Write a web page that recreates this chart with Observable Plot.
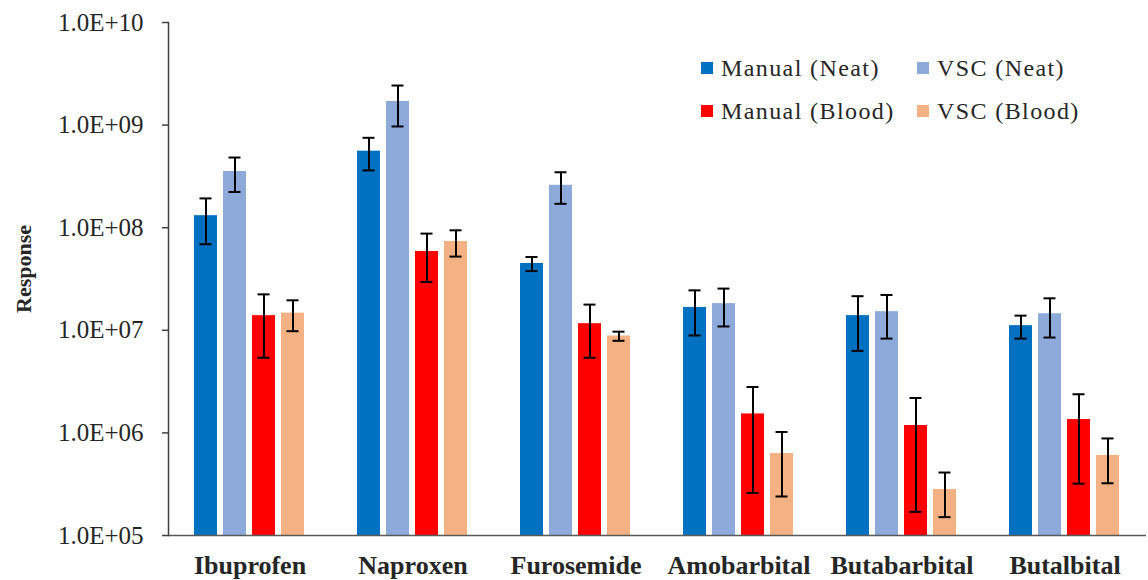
<!DOCTYPE html>
<html>
<head>
<meta charset="utf-8">
<script src="https://cdn.jsdelivr.net/npm/d3@7"></script>
<script src="https://cdn.jsdelivr.net/npm/@observablehq/plot@0.6"></script>
<style>
  body { margin: 0; background: #fff; }
  #chart { position: relative; width: 1148px; height: 580px; }
  .legend-item { position: absolute; display: flex; align-items: center; height: 24px; line-height: 24px;
    font-family: "Liberation Serif", "Times New Roman", serif; font-size: 24px; letter-spacing: 1.4px; color: #262626; white-space: nowrap; }
  .legend-item .sw { width: 12px; height: 12px; margin-right: 8px; flex: none; }
</style>
</head>
<body>
<div id="chart"></div>
<script>
// Compounds on the x axis and the four extraction / matrix series
const compounds = ["Ibuprofen", "Naproxen", "Furosemide", "Amobarbital", "Butabarbital", "Butalbital"];
const series = ["Manual (Neat)", "VSC (Neat)", "Manual (Blood)", "VSC (Blood)"];
const seriesColors = ["#0070C0", "#8EAADB", "#FF0000", "#F4B183"];

// Mean response and standard deviation per compound
const manualNeat     = [1.31e8, 5.57e8, 4.48e7, 1.67e7, 1.39e7, 1.11e7];
const manualNeatSd   = [6.2e7, 1.95e8, 7.0e6, 7.8e6, 7.6e6, 2.8e6];
const vscNeat        = [3.53e8, 1.70e9, 2.59e8, 1.82e7, 1.52e7, 1.45e7];
const vscNeatSd      = [1.3e8, 7.3e8, 8.8e7, 7.3e6, 6.9e6, 6.0e6];
const manualBlood    = [1.39e7, 5.86e7, 1.16e7, 1.53e6, 1.18e6, 1.35e6];
const manualBloodSd  = [8.5e6, 2.9e7, 6.2e6, 1.27e6, 1.01e6, 1.03e6];
const vscBlood       = [1.47e7, 7.33e7, 8.8e6, 6.3e5, 2.81e5, 6.03e5];
const vscBloodSd     = [4.9e6, 2.1e7, 9.0e5, 3.9e5, 1.3e5, 2.8e5];

// Log axis ticks and their labels
const yTicks = [1e5, 1e6, 1e7, 1e8, 1e9, 1e10];
const yTickLabels = ["1.0E+05", "1.0E+06", "1.0E+07", "1.0E+08", "1.0E+09", "1.0E+10"];

const means = [manualNeat, vscNeat, manualBlood, vscBlood];
const sds = [manualNeatSd, vscNeatSd, manualBloodSd, vscBloodSd];

const rows = [];
compounds.forEach((c, i) => {
  series.forEach((s, j) => {
    rows.push({compound: c, series: s, value: means[j][i], sd: sds[j][i]});
  });
});
const lo = d => d.value - d.sd;
const hi = d => d.value + d.sd;

const serif = "'Liberation Serif', 'Times New Roman', serif";

const plot = Plot.plot({
  width: 1148,
  height: 580,
  marginLeft: 165,
  marginRight: 0,
  marginTop: 22,
  marginBottom: 45,
  style: {fontFamily: serif, color: "#262626", background: "#fff", overflow: "visible"},
  fx: {domain: compounds, padding: 0, label: null},
  x: {domain: series, paddingInner: 0.2, paddingOuter: 0.833, axis: null},
  y: {type: "log", domain: [1e5, 1e10]},
  color: {domain: series, range: seriesColors},
  marks: [
    Plot.barY(rows, {fx: "compound", x: "series", y1: 1e5, y2: "value", fill: "series"}),
    Plot.ruleX(rows, {fx: "compound", x: "series", y1: lo, y2: hi, stroke: "#000", strokeWidth: 2}),
    Plot.tickY(rows, {fx: "compound", x: "series", y: lo, stroke: "#000", strokeWidth: 2, insetLeft: 5.5, insetRight: 5.5}),
    Plot.tickY(rows, {fx: "compound", x: "series", y: hi, stroke: "#000", strokeWidth: 2, insetLeft: 5.5, insetRight: 5.5}),
    Plot.ruleY([1e5], {stroke: "#595959", strokeWidth: 1.5}),
    Plot.frame({anchor: "left", facetAnchor: "left", stroke: "#404040", strokeWidth: 1.5}),
    Plot.axisY({
      ticks: yTicks,
      tickFormat: d => yTickLabels[yTicks.indexOf(d)],
      tickSize: 6,
      tickPadding: 19,
      fontSize: 25,
      stroke: "#404040",
      strokeWidth: 1.5,
      label: "Response",
      labelAnchor: "center",
      labelArrow: "none",
      labelOffset: 153
    }),
    Plot.axisFx({anchor: "bottom", tickSize: 0, tickPadding: 20, fontSize: 26, fontWeight: "bold", label: null})
  ]
});

// Axis title styling: bold, a little smaller than the tick labels, nudged up
d3.select(plot).selectAll('g[aria-label="y-axis label"] text')
  .style("font-weight", "bold").style("font-size", "22px").attr("dx", 10);

const chart = document.getElementById("chart");
chart.appendChild(plot);

// Legend, two columns by two rows in the upper right of the plot area
const legendPos = [
  {left: 701, top: 56}, {left: 917, top: 56},
  {left: 701, top: 99}, {left: 917, top: 99}
];
series.forEach((s, j) => {
  const item = document.createElement("div");
  item.className = "legend-item";
  item.style.left = legendPos[j].left + "px";
  item.style.top = legendPos[j].top + "px";
  const sw = document.createElement("span");
  sw.className = "sw";
  sw.style.background = seriesColors[j];
  const label = document.createElement("span");
  label.textContent = s;
  item.appendChild(sw);
  item.appendChild(label);
  chart.appendChild(item);
});
</script>
</body>
</html>
